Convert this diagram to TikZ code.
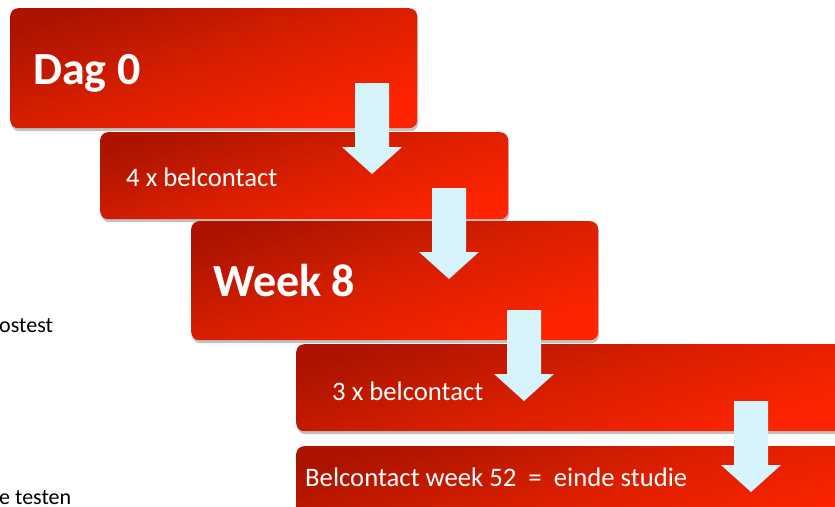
\documentclass[tikz,border=0pt]{standalone}
\usepackage{fontspec}
\setmainfont{Carlito}
\usepackage{xcolor}
\usepackage{tikz}
\usetikzlibrary{shadows}

\definecolor{boxdark}{HTML}{AC1400}
\definecolor{boxmid}{HTML}{DA1F00}
\definecolor{boxlight}{HTML}{FF2400}
\definecolor{arrowblue}{HTML}{D7F3FB}

\pgfdeclarehorizontalshading{boxshade}{100bp}{color(0bp)=(boxdark); color(25bp)=(boxdark);
  color(50bp)=(boxmid); color(75bp)=(boxlight); color(100bp)=(boxlight)}

\tikzset{
  redbox/.style={rectangle, rounded corners=8pt, anchor=north west,
    shading=boxshade, shading angle=-72,
    drop shadow={shadow xshift=1pt, shadow yshift=-3pt, opacity=.35, fill=black!70}},
  bigtxt/.style={anchor=base west, inner sep=0pt, text=white, font=\fontsize{46}{52}\selectfont\bfseries},
  smalltxt/.style={anchor=base west, inner sep=0pt, text=white, font=\fontsize{26.7}{32}\selectfont},
  sidetxt/.style={anchor=base west, inner sep=0pt, text=black, font=\fontsize{22}{26}\selectfont}
}

\begin{document}
\begin{tikzpicture}[x=1pt,y=-1pt]
\useasboundingbox (0,0) rectangle (835,506);
\clip (0,0) rectangle (835,506);
% side texts
\node[sidetxt] (post) at (-1,332) {ostest};
\node[sidetxt] (test) at (-1,504) {e testen};
% boxes
\node[redbox, minimum width=407pt, minimum height=120pt] (dag) at (10,8) {};
\node[redbox, minimum width=408pt, minimum height=87pt] (bel4) at (100,132) {};
\node[redbox, minimum width=407pt, minimum height=119pt] (week) at (191,221) {};
\node[redbox, minimum width=560pt, minimum height=87pt] (bel3) at (296,344) {};
\node[redbox, minimum width=560pt, minimum height=90pt] (einde) at (296,446) {};
% labels
\node[bigtxt] (dagtxt) at (33,84) {Dag 0};
\node[smalltxt] (bel4txt) at (126,186) {4 x belcontact};
\node[bigtxt] (weektxt) at (213,296) {Week 8};
\node[smalltxt] (bel3txt) at (332,400) {3 x belcontact};
\node[smalltxt] (eindetxt) at (305,486) {Belcontact week 52~ = ~einde studie};
% arrows
\foreach \x/\y in {372/83, 449/188, 524/310, 751/401}
  \fill[arrowblue] (\x-17,\y) -- (\x+17,\y) -- (\x+17,\y+64) -- (\x+30,\y+64)
    -- (\x,\y+91) -- (\x-30,\y+64) -- (\x-17,\y+64) -- cycle;
\end{tikzpicture}
\end{document}
